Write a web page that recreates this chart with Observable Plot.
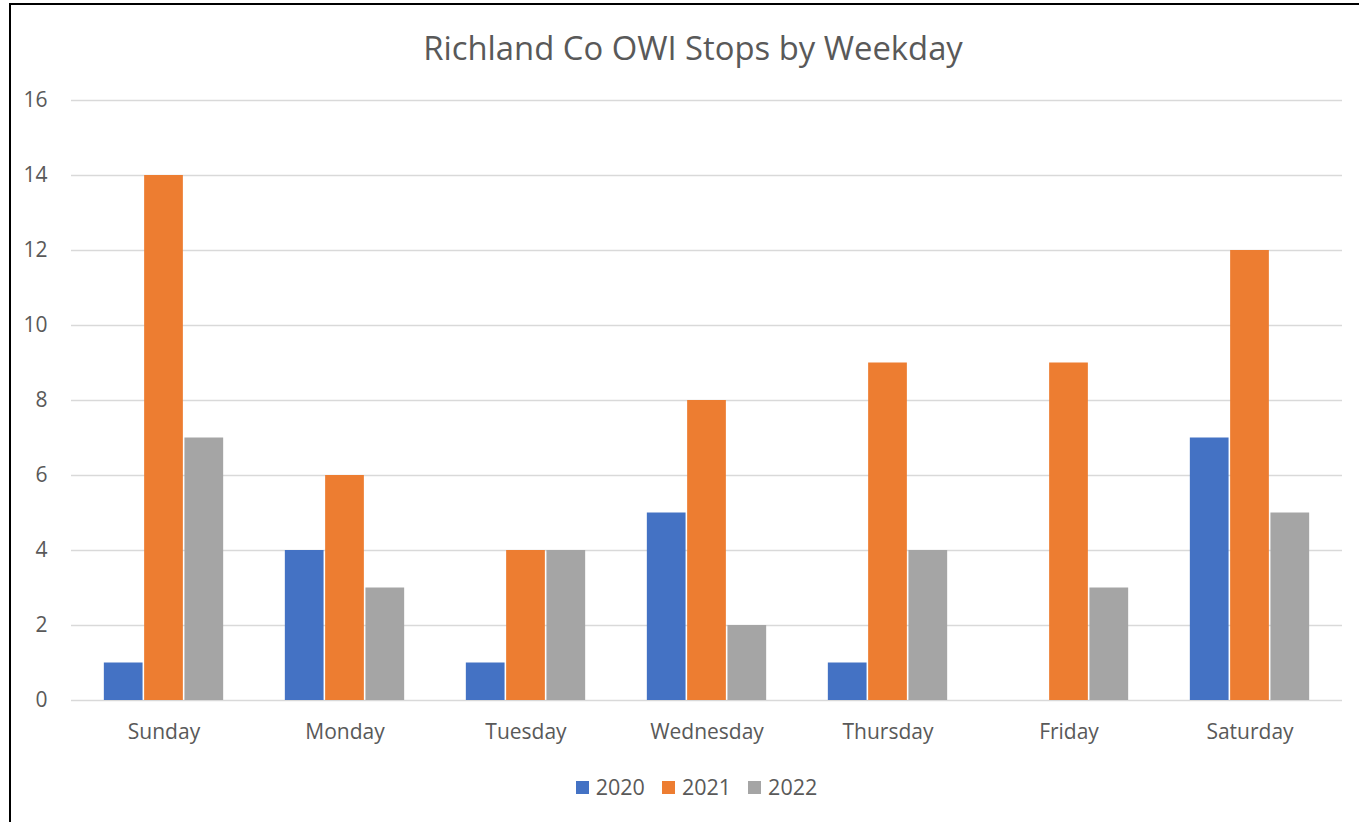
<!DOCTYPE html>
<html>
<head>
<meta charset="utf-8">
<script src="https://cdn.jsdelivr.net/npm/d3@7"></script>
<script src="https://cdn.jsdelivr.net/npm/@observablehq/plot@0.6"></script>
<style>
  html, body { margin: 0; padding: 0; background: #fff; overflow: hidden; }
  body { width: 1359px; height: 822px; position: relative; font-family: "Open Sans", Lato, sans-serif; }
  #frame { position: absolute; left: 9px; top: 3px; width: 1400px; height: 900px; border: 2px solid #000; box-sizing: border-box; }
  #title { position: absolute; left: 0; width: 1386px; top: 25px; text-align: center; font-size: 32.8px; color: #595959; line-height: 46px; }
  #chart { position: absolute; left: 0; top: 0; }
  #legend { position: absolute; left: 0; width: 1393px; top: 772px; display: flex; justify-content: center; gap: 17px; font-size: 21.5px; color: #595959; line-height: 30px; }
  .item { display: flex; align-items: center; gap: 7px; }
  .sw { width: 13px; height: 13px; display: inline-block; }
</style>
</head>
<body>
<div id="frame"></div>
<div id="title">Richland Co OWI Stops by Weekday</div>
<div id="chart"></div>
<div id="legend"></div>
<script>
const days = ["Sunday", "Monday", "Tuesday", "Wednesday", "Thursday", "Friday", "Saturday"];
const years = ["2020", "2021", "2022"];
const v2020 = [1, 4, 1, 5, 1, 0, 7];
const v2021 = [14, 6, 4, 8, 9, 9, 12];
const v2022 = [7, 3, 4, 2, 4, 3, 5];
const yTicks = [0, 2, 4, 6, 8, 10, 12, 14, 16];
const colors = ["#4472C4", "#ED7D31", "#A5A5A5"];

const series = [v2020, v2021, v2022];
const barW = 40.3;
const step = (1342 - 71) / days.length;
const inset = (step - barW) / 2;

const marks = [
  Plot.ruleY(yTicks, {stroke: "#D9D9D9", strokeWidth: 1.3})
];
series.forEach((vals, i) => {
  const rows = days.map((d, k) => ({day: d, year: years[i], value: vals[k]}));
  marks.push(Plot.barY(rows, {
    x: "day", y: "value", fill: colors[i],
    insetLeft: inset + 0.5, insetRight: inset + 0.5,
    dx: (i - 1) * barW
  }));
});

const chart = Plot.plot({
  width: 1359,
  height: 760,
  marginLeft: 71,
  marginRight: 17,
  marginTop: 100,
  marginBottom: 60,
  style: {fontFamily: "'Open Sans', Lato, sans-serif", fontSize: "21px", color: "#595959", background: "transparent"},
  x: {domain: days, padding: 0, label: null, tickSize: 0, tickPadding: 24},
  y: {domain: [0, 16], ticks: yTicks, label: null, tickSize: 0, tickPadding: 24},
  marks
});
document.getElementById("chart").appendChild(chart);

const legend = document.getElementById("legend");
years.forEach((y, i) => {
  const it = document.createElement("div");
  it.className = "item";
  it.innerHTML = `<span class="sw" style="background:${colors[i]}"></span><span>${y}</span>`;
  legend.appendChild(it);
});
</script>
</body>
</html>
